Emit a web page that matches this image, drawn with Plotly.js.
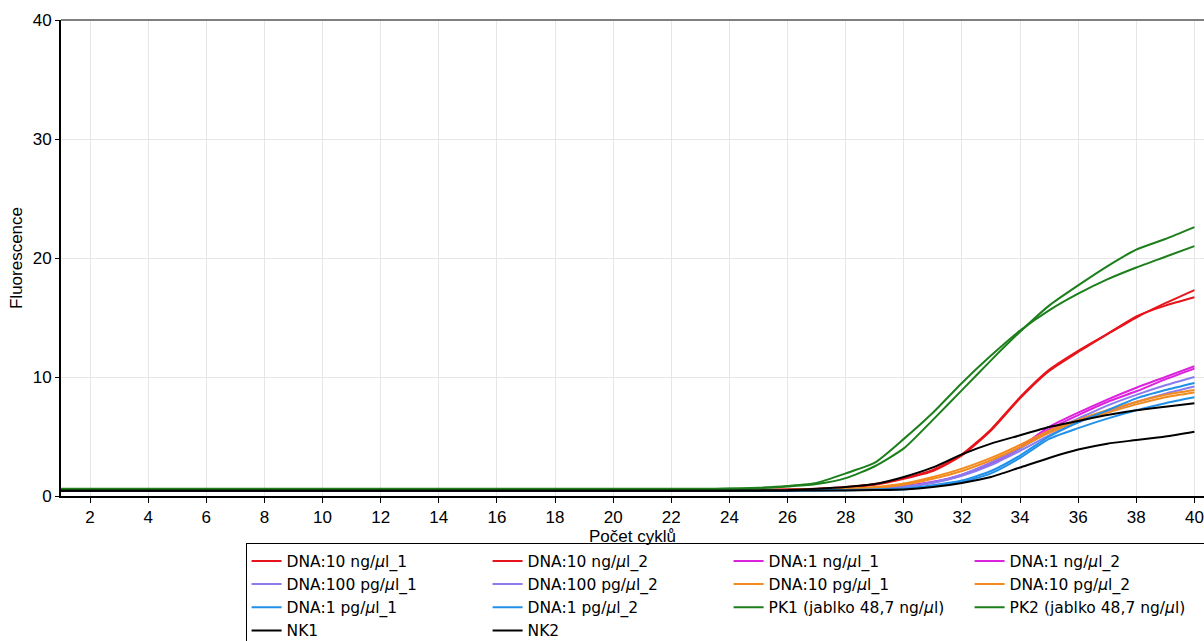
<!DOCTYPE html>
<html>
<head>
<meta charset="utf-8">
<script src="https://cdn.plot.ly/plotly-3.0.1.min.js"></script>
<style>html,body{margin:0;padding:0;background:#fff;overflow:hidden;}#chart{width:1250px;height:690px;}</style>
</head>
<body>
<div id="chart"></div>
<script>
const cycles = [1,2,3,4,5,6,7,8,9,10,11,12,13,14,15,16,17,18,19,20,21,22,23,24,25,26,27,28,29,30,31,32,33,34,35,36,37,38,39,40];

const seriesNames = [
  "DNA:10 ng/<i>μ</i>l_1", "DNA:10 ng/<i>μ</i>l_2",
  "DNA:1 ng/<i>μ</i>l_1", "DNA:1 ng/<i>μ</i>l_2",
  "DNA:100 pg/<i>μ</i>l_1", "DNA:100 pg/<i>μ</i>l_2",
  "DNA:10 pg/<i>μ</i>l_1", "DNA:10 pg/<i>μ</i>l_2",
  "DNA:1 pg/<i>μ</i>l_1", "DNA:1 pg/<i>μ</i>l_2",
  "PK1 (jablko 48,7 ng/<i>μ</i>l)", "PK2 (jablko 48,7 ng/<i>μ</i>l)",
  "NK1", "NK2"
];
const seriesColors = [
  "#e8141b", "#e8141b",
  "#dd22dd", "#dd22dd",
  "#8a7bef", "#8a7bef",
  "#f28a1e", "#f28a1e",
  "#2190e8", "#2190e8",
  "#1c7f1c", "#1c7f1c",
  "#000000", "#000000"
];

const dna10_1  = [0.50,0.50,0.50,0.50,0.50,0.50,0.50,0.50,0.50,0.50,0.50,0.50,0.50,0.50,0.50,0.50,0.50,0.50,0.50,0.50,0.50,0.50,0.50,0.50,0.50,0.55,0.60,0.75,1.00,1.50,2.20,3.50,5.60,8.30,10.6,12.2,13.6,15.0,16.2,17.3];
const dna10_2  = [0.50,0.50,0.50,0.50,0.50,0.50,0.50,0.50,0.50,0.50,0.50,0.50,0.50,0.50,0.50,0.50,0.50,0.50,0.50,0.50,0.50,0.50,0.50,0.50,0.50,0.54,0.58,0.70,0.95,1.45,2.10,3.40,5.50,8.20,10.5,12.1,13.6,15.1,16.0,16.7];
const dna1_1   = [0.50,0.50,0.50,0.50,0.50,0.50,0.50,0.50,0.50,0.50,0.50,0.50,0.50,0.50,0.50,0.50,0.50,0.50,0.50,0.50,0.50,0.50,0.50,0.50,0.50,0.50,0.52,0.55,0.65,0.85,1.20,1.80,2.80,4.10,5.80,7.00,8.10,9.10,10.0,10.9];
const dna1_2   = [0.50,0.50,0.50,0.50,0.50,0.50,0.50,0.50,0.50,0.50,0.50,0.50,0.50,0.50,0.50,0.50,0.50,0.50,0.50,0.50,0.50,0.50,0.50,0.50,0.50,0.50,0.52,0.55,0.63,0.80,1.15,1.75,2.70,4.00,5.60,6.80,7.90,8.80,9.80,10.7];
const dna100_1 = [0.50,0.50,0.50,0.50,0.50,0.50,0.50,0.50,0.50,0.50,0.50,0.50,0.50,0.50,0.50,0.50,0.50,0.50,0.50,0.50,0.50,0.50,0.50,0.50,0.50,0.50,0.52,0.55,0.63,0.80,1.15,1.80,2.80,4.00,5.40,6.50,7.60,8.50,9.30,10.0];
const dna100_2 = [0.50,0.50,0.50,0.50,0.50,0.50,0.50,0.50,0.50,0.50,0.50,0.50,0.50,0.50,0.50,0.50,0.50,0.50,0.50,0.50,0.50,0.50,0.50,0.50,0.50,0.50,0.51,0.54,0.61,0.75,1.10,1.70,2.60,3.80,5.10,6.20,7.10,7.90,8.60,9.20];
const dna10p_1 = [0.50,0.50,0.50,0.50,0.50,0.50,0.50,0.50,0.50,0.50,0.50,0.50,0.50,0.50,0.50,0.50,0.50,0.50,0.50,0.50,0.50,0.50,0.50,0.50,0.50,0.51,0.54,0.60,0.75,1.05,1.60,2.30,3.20,4.30,5.50,6.40,7.20,7.90,8.50,8.90];
const dna10p_2 = [0.50,0.50,0.50,0.50,0.50,0.50,0.50,0.50,0.50,0.50,0.50,0.50,0.50,0.50,0.50,0.50,0.50,0.50,0.50,0.50,0.50,0.50,0.50,0.50,0.50,0.51,0.53,0.58,0.70,0.95,1.45,2.10,3.00,4.10,5.30,6.30,7.00,7.70,8.30,8.70];
const dna1p_1  = [0.48,0.48,0.48,0.48,0.48,0.48,0.48,0.48,0.48,0.48,0.48,0.48,0.48,0.48,0.48,0.48,0.48,0.48,0.48,0.48,0.48,0.48,0.48,0.48,0.45,0.45,0.47,0.50,0.55,0.62,0.90,1.30,2.10,3.40,5.00,6.20,7.20,8.20,8.90,9.50];
const dna1p_2  = [0.48,0.48,0.48,0.48,0.48,0.48,0.48,0.48,0.48,0.48,0.48,0.48,0.48,0.48,0.48,0.48,0.48,0.48,0.48,0.48,0.48,0.48,0.48,0.48,0.45,0.45,0.46,0.49,0.52,0.57,0.85,1.20,1.90,3.20,4.80,5.70,6.50,7.20,7.80,8.30];
const pk1      = [0.60,0.60,0.60,0.60,0.60,0.60,0.60,0.60,0.60,0.60,0.60,0.60,0.60,0.60,0.60,0.60,0.60,0.60,0.60,0.60,0.60,0.60,0.60,0.62,0.70,0.85,1.10,1.90,2.80,4.80,7.00,9.50,11.8,13.9,15.6,17.0,18.2,19.2,20.1,21.0];
const pk2      = [0.58,0.58,0.58,0.58,0.58,0.58,0.58,0.58,0.58,0.58,0.58,0.58,0.58,0.58,0.58,0.58,0.58,0.58,0.58,0.58,0.58,0.58,0.58,0.60,0.65,0.80,1.00,1.50,2.50,4.00,6.40,8.90,11.4,13.8,16.0,17.7,19.3,20.7,21.6,22.6];
const nk1      = [0.45,0.45,0.45,0.45,0.45,0.45,0.45,0.45,0.45,0.45,0.45,0.45,0.45,0.45,0.45,0.45,0.45,0.45,0.45,0.45,0.45,0.45,0.45,0.45,0.47,0.50,0.60,0.75,1.00,1.60,2.40,3.50,4.40,5.10,5.80,6.30,6.80,7.20,7.50,7.80];
const nk2      = [0.45,0.45,0.45,0.45,0.45,0.45,0.45,0.45,0.45,0.45,0.45,0.45,0.45,0.45,0.45,0.45,0.45,0.45,0.45,0.45,0.45,0.45,0.45,0.45,0.45,0.45,0.46,0.47,0.50,0.55,0.75,1.10,1.60,2.40,3.20,3.90,4.40,4.70,5.00,5.40];

const seriesValues = [dna10_1, dna10_2, dna1_1, dna1_2, dna100_1, dna100_2, dna10p_1, dna10p_2, dna1p_1, dna1p_2, pk1, pk2, nk1, nk2];

const xTickVals = [2,4,6,8,10,12,14,16,18,20,22,24,26,28,30,32,34,36,38,40];
const yTickVals = [0,10,20,30,40];

const traces = seriesValues.map((vals, i) => ({
  type: 'scatter',
  mode: 'lines',
  x: cycles,
  y: vals,
  name: seriesNames[i],
  line: {color: seriesColors[i], width: 2, shape: 'spline', smoothing: 0.6},
  hoverinfo: 'skip'
}));

const font = "Liberation Sans, Arial, sans-serif";
const legendFont = "DejaVu Sans, Liberation Sans, sans-serif";

const layout = {
  width: 1250,
  height: 690,
  margin: {l: 61, r: 46, t: 20, b: 194},
  paper_bgcolor: '#ffffff',
  plot_bgcolor: '#ffffff',
  font: {family: font, size: 17, color: '#000'},
  showlegend: true,
  xaxis: {
    range: [1, 40.33],
    automargin: false,
    tickvals: xTickVals,
    ticktext: xTickVals.map(String),
    showgrid: true,
    gridcolor: '#e6e6e6',
    gridwidth: 1,
    zeroline: false,
    showline: true,
    linecolor: '#000',
    linewidth: 2,
    ticks: 'outside',
    ticklen: 5,
    tickcolor: '#000',
    tickfont: {family: font, size: 17, color: '#000'},
    title: {text: 'Počet cyklů', font: {family: font, size: 17, color: '#000'}, standoff: 4}
  },
  yaxis: {
    range: [0, 40],
    automargin: false,
    tickvals: yTickVals,
    ticktext: yTickVals.map(String),
    showgrid: true,
    gridcolor: '#e6e6e6',
    gridwidth: 1,
    zeroline: false,
    showline: true,
    linecolor: '#000',
    linewidth: 2,
    ticks: 'outside',
    ticklen: 4,
    tickcolor: '#000',
    tickfont: {family: font, size: 17, color: '#000'},
    title: {text: 'Fluorescence', font: {family: font, size: 17, color: '#000'}, standoff: 6}
  },
  legend: {
    orientation: 'h',
    x: 0.1615,
    xanchor: 'left',
    y: -0.0995,
    yanchor: 'top',
    entrywidth: 196,
    entrywidthmode: 'pixels',
    bordercolor: '#000',
    borderwidth: 1,
    bgcolor: '#ffffff',
    font: {family: legendFont, size: 15.5, color: '#000'},
    traceorder: 'normal',
    itemclick: false
  },
  shapes: [{
    type: 'line', xref: 'paper', yref: 'paper',
    x0: 0, x1: 1, y0: 1, y1: 1,
    line: {color: '#808080', width: 2}
  }]
};

Plotly.newPlot('chart', traces, layout, {displayModeBar: false, staticPlot: true});
</script>
</body>
</html>
